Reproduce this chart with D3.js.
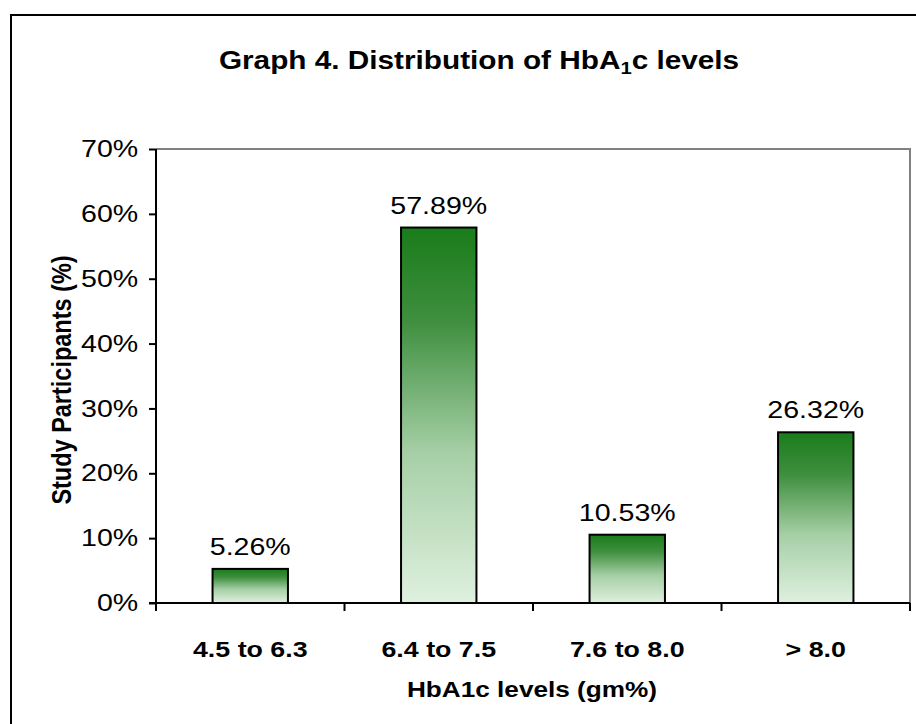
<!DOCTYPE html>
<html>
<head>
<meta charset="utf-8">
<script src="https://cdn.jsdelivr.net/npm/d3@7"></script>
<style>
  body { margin: 0; background: #fff; }
  svg { display: block; font-family: "Liberation Sans", Arial, sans-serif; }
</style>
</head>
<body>
<svg id="chart" width="916" height="724"></svg>
<script>
// データ
var categories = ["4.5 to 6.3", "6.4 to 7.5", "7.6 to 8.0", "> 8.0"];
var values = [5.26, 57.89, 10.53, 26.32];
var yTicks = [0, 10, 20, 30, 40, 50, 60, 70];

var svg = d3.select("#chart");
var stretch = 1.19; // 文字の横幅の伸び

// 横に伸ばした文字を置く
function addText(parent, px, py, size, bold, str){
    return parent.append("g")
        .attr("transform", "translate(" + px + "," + py + ") scale(" + stretch + ",1)")
        .append("text")
        .attr("text-anchor", "middle")
        .attr("font-size", size)
        .attr("font-weight", bold ? "bold" : "normal")
        .text(str);
}

// 外枠
svg.append("rect")
    .attr("x", 11).attr("y", 15)
    .attr("width", 1000).attr("height", 1000)
    .attr("fill", "none")
    .attr("stroke", "#000")
    .attr("stroke-width", 2);

var plotL = 156, plotR = 910, plotT = 149, plotB = 603;

var x = d3.scaleBand()
    .domain(categories)
    .range([plotL, plotR])
    .paddingInner(0.6)
    .paddingOuter(0.3);

var y = d3.scaleLinear()
    .domain([0, 70])
    .range([plotB, plotT]);

// グラデーション
var grad = svg.append("defs").append("linearGradient")
    .attr("id", "barGrad")
    .attr("x1", 0).attr("y1", 0).attr("x2", 0).attr("y2", 1);
grad.append("stop").attr("offset", "0%").attr("stop-color", "#1a7c1a");
grad.append("stop").attr("offset", "25%").attr("stop-color", "#3f8f3f");
grad.append("stop").attr("offset", "60%").attr("stop-color", "#a6cfa6");
grad.append("stop").attr("offset", "100%").attr("stop-color", "#dff0df");

// プロットエリアの枠(上・右)
svg.append("path")
    .attr("d", "M" + plotL + "," + plotT + "H" + plotR + "V" + plotB)
    .attr("fill", "none")
    .attr("stroke", "#808080")
    .attr("stroke-width", 2);

// 棒
svg.selectAll(".bar")
    .data(values)
    .enter()
    .append("rect")
    .attr("class", "bar")
    .attr("x", function(d, i){ return x(categories[i]); })
    .attr("y", function(d){ return y(d); })
    .attr("width", x.bandwidth())
    .attr("height", function(d){ return plotB - y(d); })
    .attr("fill", "url(#barGrad)")
    .attr("stroke", "#000")
    .attr("stroke-width", 2);

// 値ラベル
values.forEach(function(d, i){
    addText(svg, x(categories[i]) + x.bandwidth() / 2, y(d) - 14, 24, false, d.toFixed(2) + "%");
});

// 縦軸
var yAxis = svg.append("g")
    .attr("transform", "translate(" + plotL + ",0)")
    .call(d3.axisLeft(y)
        .tickValues(yTicks)
        .tickSize(7)
        .tickPadding(8)
        .tickFormat(function(d){ return d + "%"; }));
yAxis.select(".domain").attr("stroke-width", 2).attr("d", "M0," + plotT + "V" + plotB);
yAxis.selectAll(".tick line").attr("stroke-width", 2);
yAxis.selectAll(".tick text")
    .attr("font-size", 24)
    .attr("font-family", "Liberation Sans, Arial, sans-serif")
    .attr("fill", "#000")
    .attr("transform", "scale(" + stretch + ",1)");

// 横軸
var xAxis = svg.append("g")
    .attr("transform", "translate(0," + plotB + ")");
xAxis.append("line")
    .attr("x1", plotL - 7).attr("x2", plotR)
    .attr("stroke", "#000").attr("stroke-width", 2);
var xEdges = d3.range(categories.length + 1).map(function(i){
    return plotL + i * (plotR - plotL) / categories.length;
});
xAxis.selectAll(".xtick")
    .data(xEdges)
    .enter()
    .append("line")
    .attr("class", "xtick")
    .attr("x1", function(d){ return d; })
    .attr("x2", function(d){ return d; })
    .attr("y1", 0).attr("y2", 8)
    .attr("stroke", "#000").attr("stroke-width", 2);
categories.forEach(function(c){
    addText(xAxis, x(c) + x.bandwidth() / 2, 54, 22.5, true, c);
});

// 軸タイトル
addText(svg, (plotL + plotR) / 2 - 1, 697, 22, true, "HbA1c levels (gm%)");

svg.append("g")
    .attr("transform", "translate(71," + 380 + ") rotate(-90) scale(1," + stretch + ")")
    .append("text")
    .attr("text-anchor", "middle")
    .attr("font-size", 23.5)
    .attr("font-weight", "bold")
    .text("Study Participants (%)");

// タイトル
var title = addText(svg, 479, 69, 25, true, "");
title.append("tspan").text("Graph 4. Distribution of HbA");
title.append("tspan").attr("font-size", 17).attr("dy", 5).text("1");
title.append("tspan").attr("dy", -5).text("c levels");
</script>
</body>
</html>
